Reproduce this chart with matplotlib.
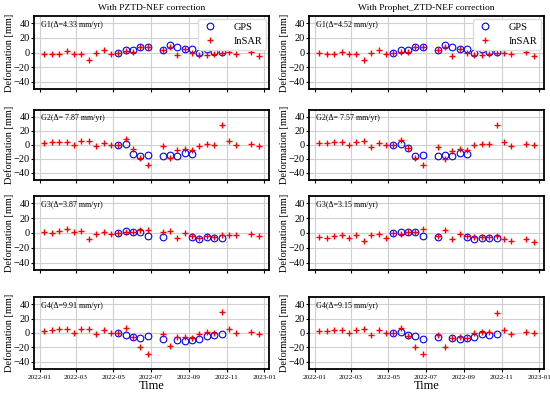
import matplotlib
matplotlib.use('Agg')
import matplotlib.pyplot as plt
import matplotlib.dates as mdates
import numpy as np
import pandas as pd

plt.rcParams['font.family'] = ['Liberation Serif', 'DejaVu Serif']
plt.rcParams['mathtext.fontset'] = 'stix'

# InSAR epochs (12-day Sentinel-1), a couple of gaps
sar_dates = pd.to_datetime([
    '2022-01-09', '2022-01-21', '2022-02-02', '2022-02-14', '2022-02-26',
    '2022-03-10', '2022-03-22', '2022-04-03', '2022-04-15', '2022-04-27',
    '2022-05-09', '2022-05-21', '2022-06-02', '2022-06-14', '2022-06-26',
    '2022-07-20', '2022-08-01', '2022-08-13', '2022-08-25', '2022-09-06',
    '2022-09-18', '2022-09-30', '2022-10-12', '2022-10-24', '2022-11-05',
    '2022-11-17', '2022-12-11', '2022-12-23'])

# GPS epochs coincide with InSAR epochs from 2022-05-09 to 2022-10-24
gps_dates = pd.to_datetime([
    '2022-05-09', '2022-05-21', '2022-06-02', '2022-06-14', '2022-06-26',
    '2022-07-20', '2022-08-01', '2022-08-13', '2022-08-25', '2022-09-06',
    '2022-09-18', '2022-09-30', '2022-10-12', '2022-10-24'])

nan = np.nan

# left column: PZTD-NEF
insar_left = {
    'G1': [-2, -1.5, -1.5, 1.5, -2, -2, -10, -0.5, 3, -2, 0, 2, 1, 7, 8,
           4, 7, -4, 5, -1, -3, -3, -2, 0, 1, -2, 1, -5],
    'G2': [2.5, 4, 5, 5, 0.5, 6, 5.5, -2, 3.5, 0.5, 0, 8, -5, -19, -28.5,
           -1, -18, -6.5, -5.5, -7.5, -1, 1, -0.5, 28.5, 5.5, 0, 1.5, -1],
    'G3': [1, 0.5, 3, 6, 1, 3, -8, -2, 2, -1.5, 0, 2, 1, 4, 4.5,
           1.5, 3, -7, 0, -4, -7, -4.5, -5, -3, -2.5, -3, -2, -4.5],
    'G4': [2.5, 3.5, 5, 5, 0.5, 6, 5.5, -2, 3.5, 0.5, 0, 7.5, -5, -19.5, -28.5,
           -1.5, -18.5, -6, -5.5, -7.5, -1, 1, -0.5, 28.5, 5.5, 0, 1.5, -1],
}
gps_left = {
    'G1': [0, 3, 3, 7, 8, 4, 10, 7, 5, 5, -1, 5, 1, 1],
    'G2': [0, 1, -13.5, -16, -14, -15, -14.5, -16, -11, -12.5, nan, nan, nan, nan],
    'G3': [0, 2.5, 1.5, 1, -4, -5, nan, nan, nan, -5, -8, -6, -7, -7],
    'G4': [0, -3, -5, -7, -4, -8, nan, -10, -11, -10, -8, -4, -3, -1],
}
delta_left = {'G1': 'G1(Δ=4.33 mm/yr)', 'G2': 'G2(Δ= 7.87 mm/yr)',
              'G3': 'G3(Δ=3.87 mm/yr)', 'G4': 'G4(Δ=9.91 mm/yr)'}

# right column: Prophet_ZTD-NEF
insar_right = {
    'G1': [-1, -1.5, -1.5, 1, -2, -2, -10, 0, 3, -2, 0, 1, 1, 8, 8,
           3, 7, -5, 5, -1, -4, -3, -2, -1, -1, -2, 1, -5],
    'G2': [3, 3, 4.5, 4, -0.5, 4.5, 5.5, -2.5, 3.5, 0, 0, 7.5, -4.5, -19, -28.5,
           -2.5, -19.5, -8, -5.5, -7, 0, 2, 1, 28, 4, -1, 1.5, -0.5],
    'G3': [-5.5, -7, -4, -3, -6.5, -3, -10.5, -3, -1, -7, 0, -1, 1, 2, 5,
           -4.5, 4.5, -8, -2, -3.5, -6, -6, -5, -4, -7.5, -11, -8, -11.5],
    'G4': [3, 3, 4.5, 4, -0.5, 4.5, 5.5, -2.5, 3.5, 0, 0, 7.5, -4.5, -19, -28.5,
           -2.5, -19.5, -7.5, -5.5, -7, 0, 2, 1, 27.5, 3.5, -1, 1.5, -0.5],
}
gps_right = {
    'G1': [0, 3, 3, 7, 8, 4, 10, 7, 5, 5, -1, 5, 1, 1],
    'G2': [0, 1, -4, -16, -14.5, -15, -14, -16, -11, -12.5, nan, nan, nan, nan],
    'G3': [0, 2, 1, 1, -3.5, -5, nan, nan, nan, -5, -8, -7, -7, -7],
    'G4': [0, 2, -3, -4, -8.5, -5, nan, -7, -8, -7.5, -5, -1, -3, -1],
}
delta_right = {'G1': 'G1(Δ=4.52 mm/yr)', 'G2': 'G2(Δ= 7.57 mm/yr)',
               'G3': 'G3(Δ=3.15 mm/yr)', 'G4': 'G4(Δ=9.15 mm/yr)'}

groups = ['G1', 'G2', 'G3', 'G4']
titles = ['With PZTD-NEF correction', 'With Prophet_ZTD-NEF correction']

fig = plt.figure(figsize=(5.5, 3.94), dpi=100)
W, H = 550, 394
col_x = [34, 309]
ax_w = 235
row_y = [(16, 89), (110, 180), (196, 270), (297, 369)]

datasets = [(insar_left, gps_left, delta_left), (insar_right, gps_right, delta_right)]
for c, (insar, gps, delta) in enumerate(datasets):
    for r, g in enumerate(groups):
        top, bot = row_y[r]
        ax = fig.add_axes([col_x[c] / W, 1 - bot / H, ax_w / W, (bot - top) / H])
        ax.plot(gps_dates, gps[g], 'o', mfc='none', mec='blue', mew=0.8, ms=4.8,
                label='GPS', zorder=3)
        ax.plot(sar_dates, insar[g], '+', color='red', mew=1.0, ms=5,
                label='InSAR', zorder=4)
        ax.set_ylim(-50, 50)
        ax.set_yticks([-40, -20, 0, 20, 40])
        ax.set_xlim(pd.Timestamp('2021-12-23'), pd.Timestamp('2023-01-09'))
        ax.xaxis.set_major_locator(mdates.MonthLocator(bymonth=[1, 3, 5, 7, 9, 11]))
        ax.xaxis.set_major_formatter(mdates.DateFormatter('%Y-%m'))
        ax.grid(True, color='#d0d0d0', linewidth=0.8)
        ax.set_axisbelow(True)
        for sp in ax.spines.values():
            sp.set_linewidth(1.3)
        ax.tick_params(axis='y', labelsize=7.5, length=2, pad=1)
        ax.tick_params(axis='x', labelsize=5.2, length=2, pad=2)
        if r < 3:
            ax.tick_params(axis='x', labelbottom=False)
        else:
            ax.set_xlabel('Time', fontsize=9, labelpad=0)
        ax.set_ylabel('Deformation [mm]', fontsize=7.5, labelpad=0)
        ax.text(0.03, 0.88, delta[g], transform=ax.transAxes, fontsize=5.8,
                va='center', ha='left')
        if r == 0:
            ax.set_title(titles[c], fontsize=6.8, pad=4)
            ax.legend(loc='upper right', fontsize=7.5, handletextpad=1.6,
                      handlelength=1.4, borderpad=0.4, labelspacing=0.45,
                      framealpha=1, edgecolor='#dddddd', fancybox=True,
                      borderaxespad=0.25)

fig.savefig('out.png', dpi=100)
